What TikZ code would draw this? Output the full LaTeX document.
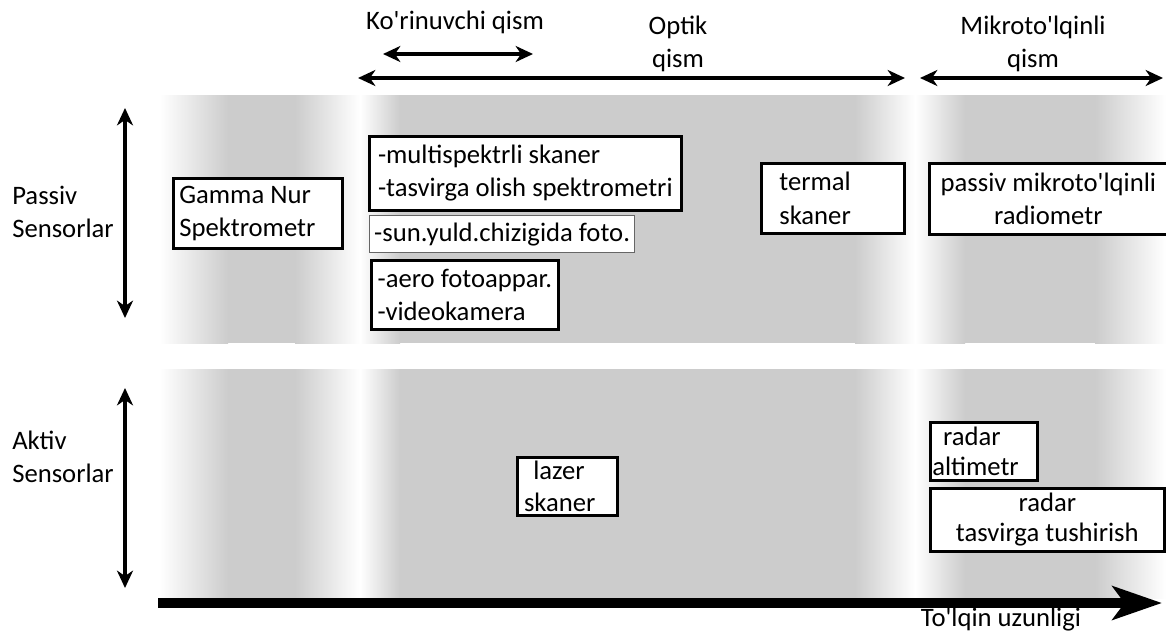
\documentclass[tikz,border=0pt]{standalone}
\usepackage{fontspec}
\setmainfont{Carlito}[Ligatures=TeXOff]
\usetikzlibrary{arrows.meta}
\colorlet{band}{black!20}

\begin{document}
\begin{tikzpicture}[x=0.75pt,y=-0.75pt,font=\fontsize{20}{25}\selectfont,
  >={Stealth[length=13pt,width=12pt,inset=4pt]},
  dbl/.style={line width=2.4pt,<->},
  box/.style={draw,line width=2pt,fill=white,anchor=north west,inner xsep=4.5pt,inner ysep=0pt,align=flush left},
  lbl/.style={align=center,inner sep=0pt}]
\useasboundingbox (0,0) rectangle (1166,635);
% gray bands with light stripes
\foreach \t/\u in {95/343,369/598}{
  \fill[band] (160,\t) rectangle (1166,\u);
  \foreach \a/\b/\c/\d in {160/228/white/band,295/360/band/white,360/400/white/band,855/915/band/white,915/965/white/band,1095/1166/band/white}
    \shade[left color=\c,right color=\d] (\a,\t) rectangle (\b,\u);
}
\node[lbl] (vis) at (455,22) {Ko'rinuvchi qism};
\node[lbl] (opt) at (678,44) {Optik\\qism};
\node[lbl] (mw) at (1033,44) {Mikroto'lqinli\\qism};
\draw[dbl] (383,54) -- (533,54);
\draw[dbl] (358,78) -- (905,78);
\draw[dbl] (920,78) -- (1163,78);
\node[lbl,anchor=west,align=left] (pas) at (12,212) {Passiv\\Sensorlar};
\node[lbl,anchor=west,align=left] (akt) at (12,457) {Aktiv\\Sensorlar};
\draw[dbl] (125,108) -- (125,318);
\draw[dbl] (125,388) -- (125,588);
% passive sensors
\node[box,text width=117.75pt,minimum height=52.5pt] (gamma) at (172,177) {Gamma Nur\\Spektrometr};
\node[box,minimum width=234pt,minimum height=55.5pt] (multi) at (368,135) {-multispektrli skaner\\-tasvirga olish spektrometri};
\node[box,draw=black!60,line width=1pt,inner xsep=2pt,minimum width=198.75pt,minimum height=27.75pt] (sun) at (369,215) {-sun.yuld.chizigida foto.};
\node[box,minimum width=140.25pt,minimum height=51.75pt] (aero) at (370,259) {-aero fotoappar.\\-videokamera};
\node[box,inner xsep=13.5pt,text width=80.25pt,minimum height=52.5pt] (termal) at (760,162) {termal\\skaner};
\node[box,align=center,minimum width=178.5pt,minimum height=53.25pt] (radio) at (928,162) {passiv mikroto'lqinli\\radiometr};
% active sensors
\node[box,inner xsep=5pt,text width=65pt,font=\fontsize{20}{24}\selectfont,minimum height=43.5pt] (lazer) at (516,456) {\hspace*{7pt}lazer\\skaner};
\node[box,inner xsep=1.5pt,text width=77.25pt,font=\fontsize{20}{22.5}\selectfont,minimum height=43.5pt] (alt) at (929,421) {\hspace*{8pt}radar\\altimetr};
\node[box,align=center,font=\fontsize{20}{22.5}\selectfont,minimum width=175.5pt,minimum height=47.25pt] (sar) at (929,487) {radar\\tasvirga tushirish};
\draw[line width=7.5pt,-{Stealth[length=37pt,width=25pt,inset=9pt]}] (158,603) -- (1162,603);
\node[lbl] (wl) at (1001,620) {To'lqin uzunligi};
\end{tikzpicture}
\end{document}
